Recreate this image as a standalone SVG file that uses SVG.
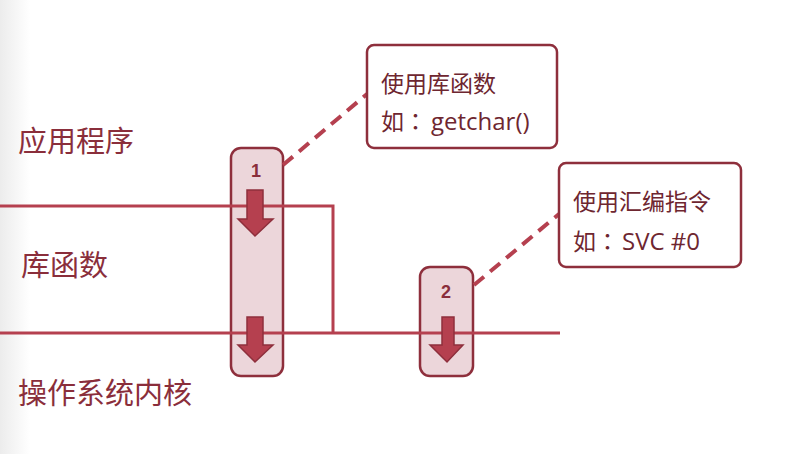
<svg xmlns="http://www.w3.org/2000/svg" width="786" height="454" viewBox="0 0 786 454">
<defs>
<linearGradient id="bg" x1="0" y1="0" x2="1" y2="0">
<stop offset="0" stop-color="#ececec"/>
<stop offset="1" stop-color="#ffffff"/>
</linearGradient>
<style>
.lbl{font-family:"Noto Sans CJK SC","Liberation Sans",sans-serif;font-size:29px;fill:#8a2e3b}
.ct{font-family:"Noto Sans CJK SC","Open Sans",sans-serif;font-size:23px;fill:#6e2630}
.colon{font-family:"Noto Sans CJK TC",sans-serif}
.lat{font-family:"Open Sans","Noto Sans",sans-serif;font-size:24px}
.num{font-family:"Liberation Sans",sans-serif;font-size:18px;font-weight:bold;fill:#8a2e3b;text-anchor:middle}
.pill{fill:#ecd6da;stroke:#8e2f3c;stroke-width:2.5}
.arrow{fill:#b5404f;stroke:#8e2f3c;stroke-width:1.5}
.line{stroke:#b5404f;stroke-width:3;fill:none}
.dash{stroke:#b5404f;stroke-width:4;stroke-dasharray:13,8;fill:none}
.box{fill:#ffffff;stroke:#8e2f3c;stroke-width:2.5}
</style>
</defs>
<rect x="0" y="0" width="786" height="454" fill="#ffffff"/>
<rect x="0" y="0" width="30" height="454" fill="url(#bg)"/>
<g id="layer-app"><text class="lbl" x="18" y="152">应用程序</text></g>
<g id="layer-lib"><text class="lbl" x="21" y="276">库函数</text></g>
<g id="layer-kernel"><text class="lbl" x="18" y="404">操作系统内核</text></g>
<g id="path1">
<rect class="pill" x="231" y="148" width="52" height="228" rx="10"/>
<text class="num" x="256" y="177">1</text>
</g>
<g id="path2">
<rect class="pill" x="420" y="267" width="53" height="109" rx="10"/>
<text class="num" x="446" y="298">2</text>
</g>
<g id="connectors">
<polyline class="line" points="0,206 333,206 333,333"/>
<line class="line" x1="0" y1="333" x2="560" y2="333"/>
<line class="dash" x1="283" y1="165" x2="367" y2="94"/>
<line class="dash" x1="474" y1="285" x2="559" y2="214"/>
<polygon class="arrow" points="247,190 263,190 263,219 273,219 255,236 238,219 247,219"/>
<polygon class="arrow" points="247,317 263,317 263,345 273,345 255,362 238,345 247,345"/>
<polygon class="arrow" points="442,317 454,317 454,345 463,345 447,362 430,345 442,345"/>
</g>
<g id="callout1">
<rect class="box" x="367" y="45" width="190" height="103" rx="7"/>
<text class="ct" x="381" y="92">使用库函数</text>
<text class="ct" x="381" y="130">如<tspan class="colon">：</tspan><tspan class="lat" x="431">getchar()</tspan></text>
</g>
<g id="callout2">
<rect class="box" x="559" y="163" width="182" height="104" rx="7"/>
<text class="ct" x="573" y="210">使用汇编指令</text>
<text class="ct" x="573" y="250">如<tspan class="colon">：</tspan><tspan class="lat" x="622">SVC #0</tspan></text>
</g>
</svg>
